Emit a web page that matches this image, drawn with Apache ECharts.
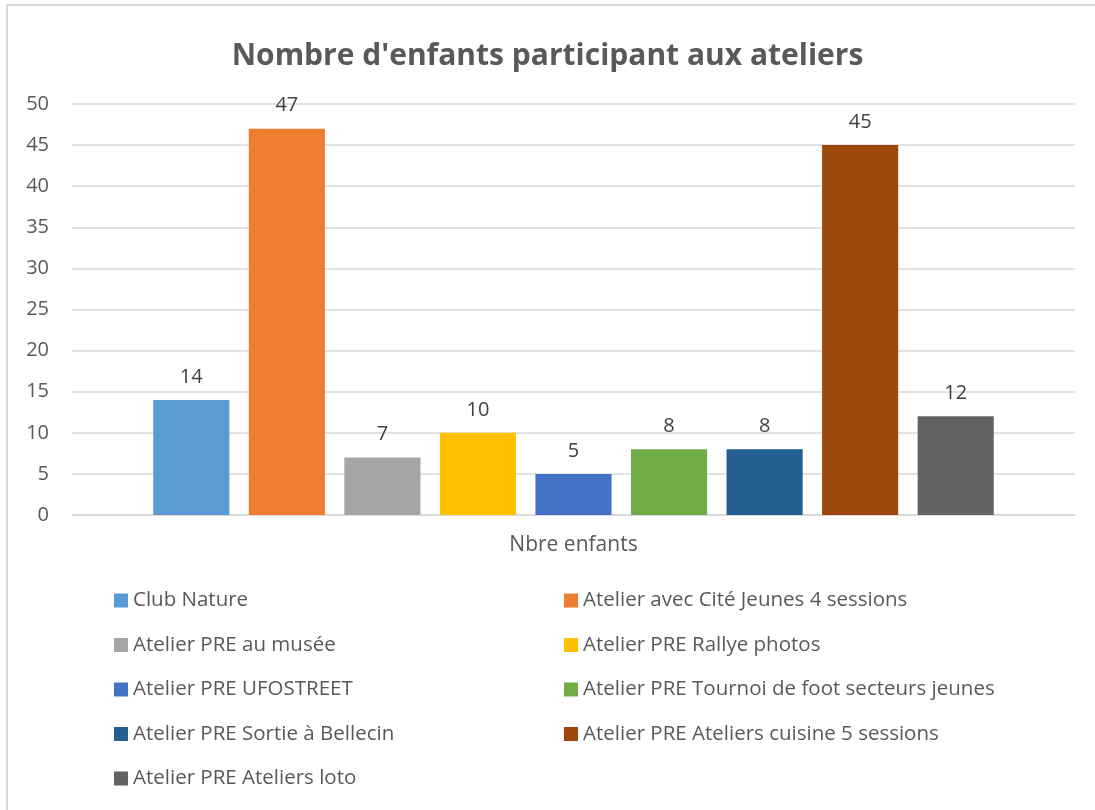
<html>
<head>
<meta charset="UTF-8" />
<title>Ateliers</title>
</head>
<body style="margin:0;background:#fff;">
<div id="main" style="width:1095px;height:810px;"></div>
<script type="text/javascript" src="https://cdn.jsdelivr.net/npm/echarts@6/dist/echarts.min.js"></script>
<script type="text/javascript">
var category = ['Nbre enfants'];
var seriesNames = [
    'Club Nature',
    'Atelier avec Cité Jeunes 4 sessions',
    'Atelier PRE au musée',
    'Atelier PRE Rallye photos',
    'Atelier PRE UFOSTREET',
    'Atelier PRE Tournoi de foot secteurs jeunes',
    'Atelier PRE Sortie à Bellecin',
    'Atelier PRE Ateliers cuisine 5 sessions',
    'Atelier PRE Ateliers loto'
];
var seriesValues = [14, 47, 7, 10, 5, 8, 8, 45, 12];
var colors = ['#5b9bd5', '#ed7d31', '#a5a5a5', '#ffc000', '#4472c4', '#70ad47', '#255e91', '#9e480e', '#636363'];

var myChart = echarts.init(document.getElementById('main'));

var series = [];
for (var i = 0; i < seriesNames.length; i++) {
    series.push({
        name: seriesNames[i],
        type: 'bar',
        data: [seriesValues[i]],
        itemStyle: { color: colors[i] },
        barGap: '25.5%',
        barCategoryGap: '16.2%',
        label: {
            show: true,
            position: 'top',
            distance: 13,
            color: '#404040',
            fontSize: 20,
            fontFamily: 'Open Sans'
        }
    });
}

// legend in two columns, like Excel
var leftNames = [], rightNames = [];
seriesNames.forEach(function (n, i) {
    if (i % 2 === 0) leftNames.push(n); else rightNames.push(n);
});
var legendBase = {
    orient: 'vertical',
    top: 590,
    padding: 0,
    itemWidth: 14,
    itemHeight: 14,
    itemGap: 23.5,
    icon: 'rect',
    textStyle: { color: '#595959', fontSize: 20.5, fontFamily: 'Open Sans', lineHeight: 20 }
};

var option = {
    animation: false,
    color: colors,
    title: {
        text: "Nombre d'enfants participant aux ateliers",
        left: 'center',
        top: 36,
        textStyle: { color: '#595959', fontSize: 30, fontWeight: 'bold', fontFamily: 'Open Sans' }
    },
    legend: [
        Object.assign({}, legendBase, { left: 114, data: leftNames }),
        Object.assign({}, legendBase, { left: 564, data: rightNames })
    ],
    grid: { left: 72, right: 20, top: 104, bottom: 295 },
    xAxis: {
        type: 'category',
        data: category,
        axisLine: { lineStyle: { color: '#d9d9d9', width: 1.5 } },
        axisTick: { show: false },
        axisLabel: { color: '#595959', fontSize: 21, fontFamily: 'Open Sans', margin: 20 }
    },
    yAxis: {
        type: 'value',
        min: 0,
        max: 50,
        interval: 5,
        axisLine: { show: false },
        axisTick: { show: false },
        splitLine: { lineStyle: { color: '#d9d9d9', width: 1.5 } },
        axisLabel: { color: '#595959', fontSize: 20, fontFamily: 'Open Sans', margin: 23 }
    },
    graphic: [{
        type: 'rect',
        shape: { x: 7, y: 5, width: 1200, height: 900 },
        style: { fill: 'none', stroke: '#d9d9d9', lineWidth: 2 },
        silent: true
    }],
    series: series
};

myChart.setOption(option);
</script>
</body>
</html>
